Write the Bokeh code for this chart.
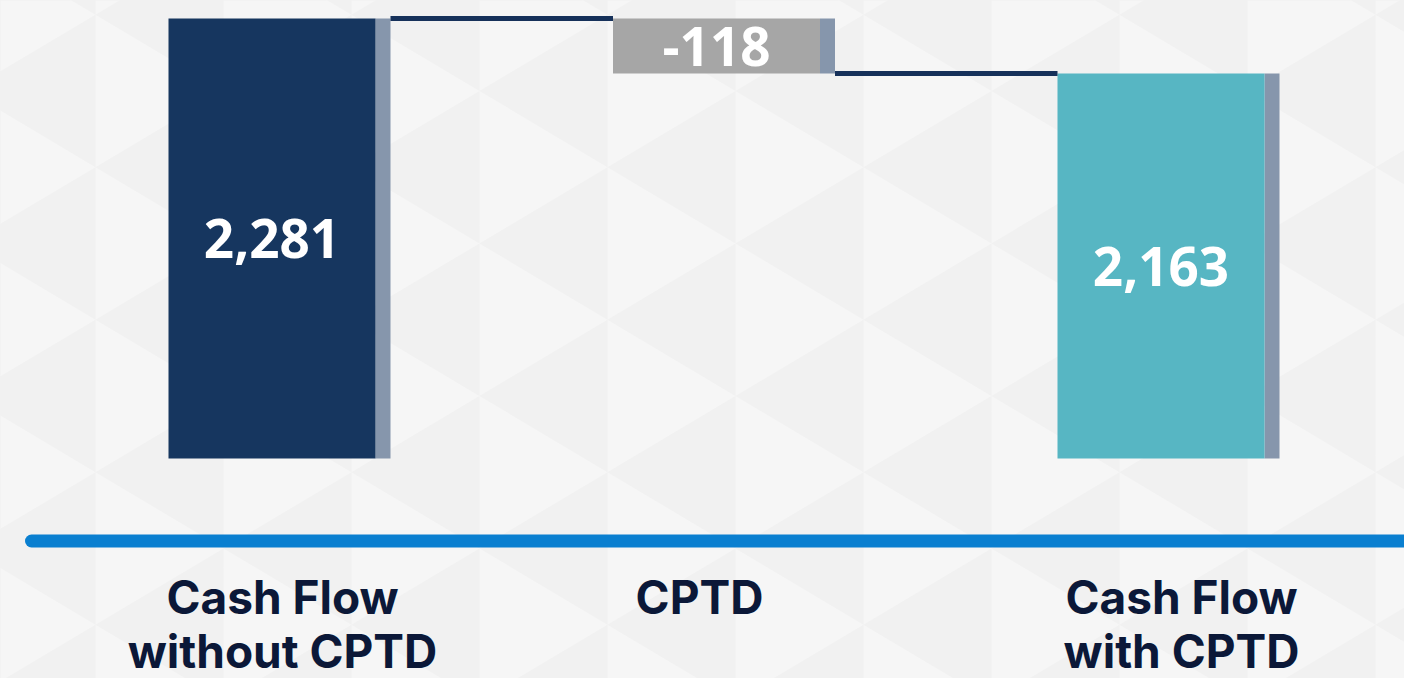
from bokeh.plotting import figure
from bokeh.models import Range1d, ColumnDataSource
from bokeh.core.properties import value
from bokeh.embed import file_html
from bokeh.resources import INLINE

# ---------------- data ----------------
categories = ["Cash Flow\nwithout CPTD", "CPTD", "Cash Flow\nwith CPTD"]
start_total = 2281
cptd_change = -118
end_total = 2163
value_labels = ["2,281", "-118", "2,163"]

# ---------------- layout / style ----------------
W, H = 1404, 678
X_UNIT_PX = 444.5                 # pixels per category step
X_START = -271.5 / X_UNIT_PX
X_END = X_START + W / X_UNIT_PX
Y_PX_PER_UNIT = 55.0 / 118.0       # broken-axis vertical scale
Y_TOP = 2281 + 18 / Y_PX_PER_UNIT
Y_BOTTOM = Y_TOP - H / Y_PX_PER_UNIT
FLOOR = Y_TOP - 458 / Y_PX_PER_UNIT      # visual floor of truncated bars
BASELINE = Y_TOP - 540.5 / Y_PX_PER_UNIT  # position of the blue axis line
BAR_W = 207 / X_UNIT_PX
SH_W = 15 / X_UNIT_PX

NAVY = "#16365f"
GRAY = "#a6a6a6"
TEAL = "#57b6c3"
SHADOW = "#8696ac"
CONNECT = "#16315a"
AXIS_BLUE = "#0a7fd0"
TEXT_NAVY = "#0b1838"
BG_DARK = "#f1f1f1"
BG_LIGHT = "#f6f6f6"
VALUE_FONT = "Open Sans"
CAT_FONT = "Inter"
label_x_offset_px = [10.5, -17, 20.5]


def px_x(px):
    return X_START + px / X_UNIT_PX


def px_y(py):
    return Y_TOP - py / Y_PX_PER_UNIT


p = figure(width=W, height=H, output_backend="svg", toolbar_location=None,
           x_range=Range1d(X_START, X_END), y_range=Range1d(Y_BOTTOM, Y_TOP),
           min_border=0, outline_line_color=None)
p.axis.visible = False
p.grid.visible = False
p.background_fill_color = BG_DARK
p.border_fill_color = BG_DARK

# ---------------- decorative background pattern ----------------
xs_tri, ys_tri = [], []
period = 152.5
for k in range(-1, 12):
    b0 = 95 + 128 * k
    b1 = b0 + 128
    t = 166.7 + 76.25 * (k - 4)
    while t > -period:
        t -= period
    while t < H + period:
        xs_tri.append([px_x(b0), px_x(b0), px_x(b1)])
        ys_tri.append([px_y(t), px_y(t + period), px_y(t + period / 2)])
        t += period
p.patches(xs_tri, ys_tri, fill_color=BG_LIGHT, line_color=None)

# ---------------- waterfall ----------------
idx = list(range(len(categories)))
after = start_total + cptd_change
bottoms = [FLOOR, min(start_total, after), FLOOR]
tops = [start_total, max(start_total, after), end_total]
colors = [NAVY, GRAY, TEAL]

src = ColumnDataSource(dict(
    x=idx, bottom=bottoms, top=tops, color=colors,
    xs=[i + BAR_W / 2 + SH_W / 2 for i in idx],
    mid=[(a + b) / 2 for a, b in zip(bottoms, tops)],
    label=value_labels,
))

p.vbar(x="xs", width=SH_W, bottom="bottom", top="top", source=src,
       fill_color=SHADOW, line_color=None)
p.vbar(x="x", width=BAR_W, bottom="bottom", top="top", source=src,
       fill_color="color", line_color=None)

# connectors
levels = [start_total, after]
p.segment(x0=[i + BAR_W / 2 + SH_W for i in idx[:-1]],
          x1=[i + 1 - BAR_W / 2 for i in idx[:-1]],
          y0=levels, y1=levels, line_color=CONNECT, line_width=5)

# value labels
p.text(x="x", y="mid", text="label", source=src, text_color="white",
       text_font=value(VALUE_FONT), text_font_style="bold", text_font_size="53px",
       text_align="center", text_baseline="middle")

# blue axis line
p.segment(x0=[px_x(31)], x1=[X_END + 1], y0=[BASELINE], y1=[BASELINE],
          line_color=AXIS_BLUE, line_width=13, line_cap="round")

# category labels
cat_src = ColumnDataSource(dict(
    x=[i + o / X_UNIT_PX for i, o in zip(idx, label_x_offset_px)],
    y=[px_y(568)] * len(idx),
    text=categories,
))
p.text(x="x", y="y", text="text", source=cat_src, text_color=TEXT_NAVY,
       text_font=value(CAT_FONT), text_font_style="bold", text_font_size="46px",
       text_align="center", text_baseline="top", text_line_height=0.98)

html = file_html(p, INLINE, title="Cash Flow CPTD")
html = html.replace("<head>", "<head><style>body{background:#f1f1f1;}</style>", 1)
open("out.html", "w").write(html)
